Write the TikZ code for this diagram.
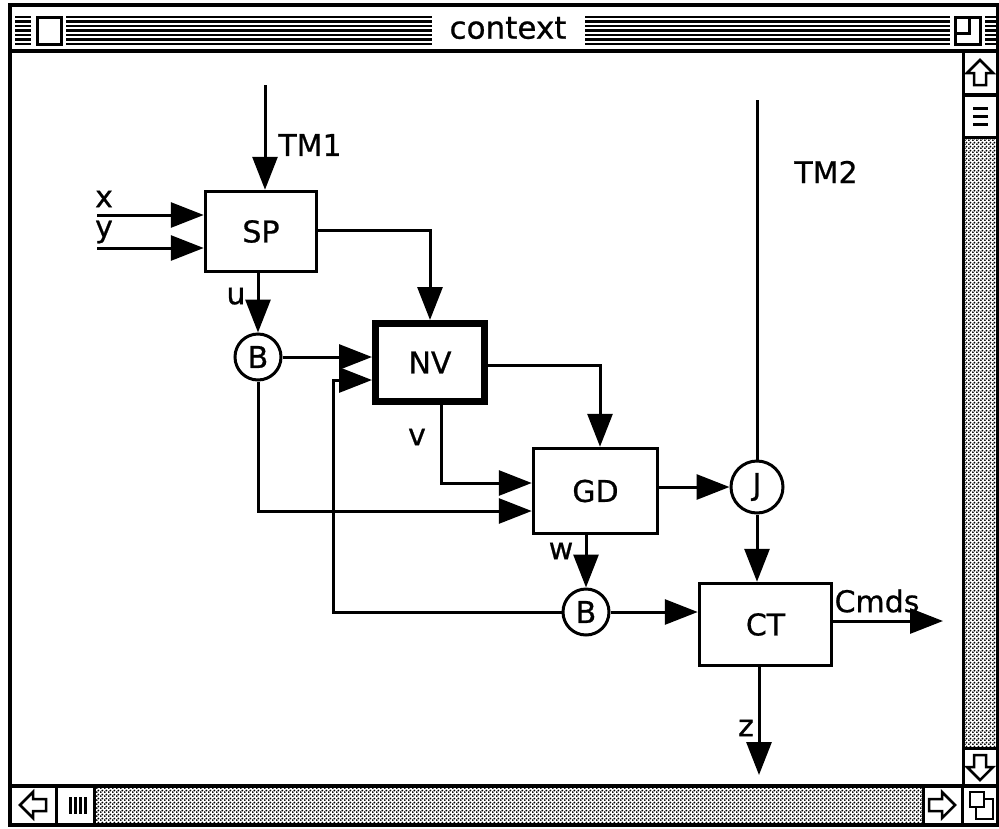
\documentclass[tikz,border=0pt]{standalone}
\usepackage{fontspec}
\setmainfont{DejaVu Sans}
\newfontfamily\genevafam{DejaVu Sans}[FakeBold=0.7]
\usetikzlibrary{arrows.meta,patterns.meta}
\newcommand\labfont{\genevafam\fontsize{30}{34}\selectfont}
\newcommand\ttlfont{\genevafam\fontsize{31}{36}\selectfont}
\pgfdeclarepattern{
  name=macdots,
  type=uncolored,
  bottom left={\pgfpoint{0pt}{0pt}},
  top right={\pgfpoint{4pt}{4pt}},
  tile size={\pgfpoint{4pt}{4pt}},
  code={\pgfpathcircle{\pgfpoint{1pt}{1pt}}{1.25pt}\pgfpathcircle{\pgfpoint{3pt}{3pt}}{1.25pt}\pgfusepath{fill}}
}
\begin{document}
\begin{tikzpicture}[x=1pt,y=-1pt,
  wire/.style={line width=3pt},
  arr/.style={wire,-{Triangle[length=33pt,width=25pt]}},
  blk/.style={draw,line width=3.5pt,inner sep=0pt,font=\labfont},
  cir/.style={circle,draw,line width=3pt,inner sep=0pt,fill=white,font=\labfont},
  lbl/.style={inner sep=0pt,font=\labfont},
  chrome/.style={line width=3pt},
  stripe/.style={line width=2.4pt},
  icon/.style={line width=2.5pt,line join=miter}]
\useasboundingbox (0,0) rectangle (999,828);
\fill[white] (0,0) rectangle (999,828);

% ---------- window chrome ----------
\foreach \yy in {17,21.5,26,30.5,35,39.5,44}{
  \draw[stripe] (15,\yy) -- (31,\yy) (66,\yy) -- (432,\yy) (585,\yy) -- (950,\yy) (985,\yy) -- (999,\yy);
}
\draw[chrome,fill=white] (37,17) rectangle (61,44);
\draw[chrome,fill=white] (955,17) rectangle (980,44);
\draw[chrome] (955,33) -- (969,33) -- (969,17);
\node[font=\ttlfont,inner sep=0pt] (title) at (508,28) {context};
\draw[line width=3.5pt] (10,5) rectangle (998,825);
\draw[line width=3.5pt] (10,51) -- (998,51);
% right scroll bar
\fill[pattern=macdots,pattern color=black] (964,137) rectangle (998,748);
\draw[chrome] (963,51) -- (963,786);
\draw[line width=4.5pt] (963,95) -- (998,95);
\draw[chrome] (963,137) -- (998,137) (963,748) -- (998,748);
\draw[icon] (980,60) -- (993,73) -- (986,73) -- (986,85) -- (974,85) -- (974,73) -- (967,73) -- cycle;
\draw[chrome] (973,108) -- (988,108) (973,116) -- (988,116) (973,124) -- (988,124);
\draw[icon] (980,780) -- (993,767) -- (986,767) -- (986,755) -- (974,755) -- (974,767) -- (967,767) -- cycle;
% bottom scroll bar
\fill[pattern=macdots,pattern color=black] (95,787) rectangle (923,824);
\draw[line width=3.5pt] (10,786) -- (998,786);
\draw[chrome] (56,786) -- (56,825) (94,786) -- (94,825) (923,786) -- (923,825) (962,786) -- (962,825);
\draw[icon] (20,805) -- (33,792) -- (33,799) -- (46,799) -- (46,811) -- (33,811) -- (33,818) -- cycle;
\draw[chrome] (70,797) -- (70,814) (75,797) -- (75,814) (80,797) -- (80,814) (85,797) -- (85,814);
\draw[icon] (955,805) -- (942,792) -- (942,799) -- (929,799) -- (929,811) -- (942,811) -- (942,818) -- cycle;
\draw[icon,fill=white] (976,799) rectangle (993,819);
\draw[icon,fill=white] (970,792) rectangle (984,807);

% ---------- diagram ----------
\node[blk,minimum width=111,minimum height=80] (SP) at (261,231.5) {SP};
\node[blk,line width=7pt,minimum width=109,minimum height=78] (NV) at (430,362.5) {NV};
\node[blk,minimum width=124,minimum height=85] (GD) at (595.5,491) {GD};
\node[blk,minimum width=132,minimum height=82] (CT) at (765.5,624.5) {CT};
\node[cir,minimum size=46] (B1) at (258,357) {B};
\node[cir,minimum size=52] (J) at (757,487) {J};
\node[cir,minimum size=46] (B2) at (586,612) {B};

\coordinate (tm1) at (265,85);
\coordinate (tm2) at (757,100);
\coordinate (xin) at (97,215);
\coordinate (yin) at (97,248);
\coordinate (h230) at (0,230);
\coordinate (h365) at (0,365);
\coordinate (h380) at (0,380);
\coordinate (h483) at (0,483);
\coordinate (h511) at (0,511);
\coordinate (v441) at (441,0);
\coordinate (v600) at (600,0);
\coordinate (v333) at (333,0);
\coordinate (cmds) at (943,621);
\coordinate (zend) at (759,775);

\draw[arr] (tm1) -- (tm1 |- SP.north);
\draw[arr] (xin) -- (xin -| SP.west);
\draw[arr] (yin) -- (yin -| SP.west);
\draw[arr] (SP.east |- h230) -| (NV.north);
\draw[arr] (SP.south -| B1) -- (B1.north);
\draw[arr] (B1.east) -- (B1.east -| NV.west);
\draw[arr] (B1.south) |- (GD.west |- h511);
\draw[arr] (v441 |- NV.south) |- (GD.west |- h483);
\draw[arr] (NV.east |- h365) -| (v600 |- GD.north);
\draw[arr] (GD.east |- J) -- (J.west);
\draw[wire] (tm2) -- (J.north);
\draw[arr] (J.south) -- (J.south |- CT.north);
\draw[arr] (GD.south -| B2) -- (B2.north);
\draw[arr] (B2.east) -- (B2.east -| CT.west);
\draw[arr] (B2.west) -| (v333 |- h380) -- (NV.west |- h380);
\draw[arr] (CT.east |- cmds) -- (cmds);
\draw[arr] (zend |- CT.south) -- (zend);

\node[lbl] (lTM1) at (310,145) {TM1};
\node[lbl] (lTM2) at (826,172) {TM2};
\node[lbl] (lx) at (104,199) {x};
\node[lbl] (ly) at (104,232) {y};
\node[lbl] (lu) at (236,296) {u};
\node[lbl] (lv) at (417,437) {v};
\node[lbl] (lw) at (561,551) {w};
\node[lbl] (lz) at (746,728) {z};
\node[lbl] (lC) at (877,601) {Cmds};
\end{tikzpicture}
\end{document}
